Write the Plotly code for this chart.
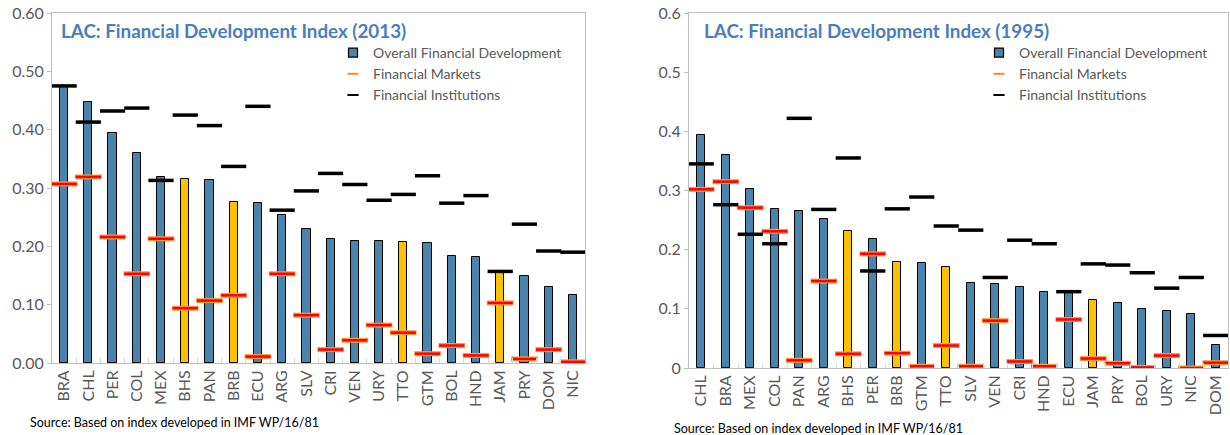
import plotly.graph_objects as go

# LAC financial development index
countries_2013 = ["BRA", "CHL", "PER", "COL", "MEX", "BHS", "PAN", "BRB", "ECU", "ARG", "SLV",
                  "CRI", "VEN", "URY", "TTO", "GTM", "BOL", "HND", "JAM", "PRY", "DOM", "NIC"]
overall_2013 = [0.475, 0.447, 0.395, 0.360, 0.319, 0.316, 0.313, 0.276, 0.275, 0.254, 0.229,
                0.212, 0.210, 0.209, 0.207, 0.205, 0.184, 0.181, 0.155, 0.149, 0.130, 0.117]
markets_2013 = [0.307, 0.319, 0.216, 0.153, 0.213, 0.094, 0.107, 0.116, 0.011, 0.153, 0.082,
                0.023, 0.039, 0.065, 0.052, 0.016, 0.030, 0.013, 0.103, 0.007, 0.023, 0.002]
institutions_2013 = [0.475, 0.413, 0.432, 0.437, 0.313, 0.425, 0.407, 0.337, 0.440, 0.262, 0.295,
                     0.325, 0.306, 0.279, 0.289, 0.321, 0.274, 0.287, 0.157, 0.238, 0.192, 0.190]

countries_1995 = ["CHL", "BRA", "MEX", "COL", "PAN", "ARG", "BHS", "PER", "BRB", "GTM", "TTO",
                  "SLV", "VEN", "CRI", "HND", "ECU", "JAM", "PRY", "BOL", "URY", "NIC", "DOM"]
overall_1995 = [0.394, 0.360, 0.302, 0.268, 0.265, 0.252, 0.231, 0.218, 0.179, 0.178, 0.170,
                0.144, 0.142, 0.137, 0.129, 0.126, 0.115, 0.110, 0.099, 0.096, 0.092, 0.039]
markets_1995 = [0.302, 0.315, 0.271, 0.231, 0.013, 0.147, 0.024, 0.193, 0.025, 0.003, 0.038,
                0.003, 0.080, 0.011, 0.003, 0.082, 0.016, 0.008, 0.001, 0.021, 0.000, 0.009]
institutions_1995 = [0.345, 0.276, 0.226, 0.210, 0.422, 0.268, 0.355, 0.164, 0.269, 0.289, 0.240,
                     0.233, 0.153, 0.216, 0.210, 0.129, 0.176, 0.174, 0.161, 0.135, 0.153, 0.055]

# small open economies shown in yellow
highlight = ["BHS", "BRB", "TTO", "JAM"]

# y axis ticks
y_ticks = [0, 0.1, 0.2, 0.3, 0.4, 0.5, 0.6]
y_labels_2013 = ["0.00", "0.10", "0.20", "0.30", "0.40", "0.50", "0.60"]
y_labels_1995 = ["0", "0.1", "0.2", "0.3", "0.4", "0.5", "0.6"]

BLUE = "#4A84AD"
YELLOW = "#FFC000"
TITLE_BLUE = "#4A7EBB"
GREY_TXT = "#595959"
FONT = "Lato"

W, H = 1230, 435


def px(x):
    return x / W


def py(y):
    return 1 - y / H


def add_panel(fig, countries, overall, markets, institutions, xa, ya, legend):
    colors = [YELLOW if c in highlight else BLUE for c in countries]
    fig.add_trace(go.Bar(
        x=countries, y=overall, name="Overall Financial Development",
        marker=dict(color=colors, line=dict(color="black", width=1)),
        width=0.34, xaxis=xa, yaxis=ya, showlegend=False,
    ))
    # orange halo underneath, red core on top (as in the Excel markers)
    fig.add_trace(go.Scatter(
        x=countries, y=markets, mode="markers", name="Financial Markets",
        marker=dict(symbol="line-ew", size=19, line=dict(color="#FF9A3C", width=5)),
        xaxis=xa, yaxis=ya, showlegend=False,
    ))
    fig.add_trace(go.Scatter(
        x=countries, y=markets, mode="markers", name="Financial Markets",
        marker=dict(symbol="line-ew", size=18, line=dict(color="#FF0000", width=2.5)),
        xaxis=xa, yaxis=ya, showlegend=False,
    ))
    fig.add_trace(go.Scatter(
        x=countries, y=institutions, mode="markers", name="Financial Institutions",
        marker=dict(symbol="line-ew", size=18, line=dict(color="black", width=3.5)),
        xaxis=xa, yaxis=ya, showlegend=False,
    ))

    # legend-only entries with small Excel-like keys
    fig.add_trace(go.Scatter(
        x=[None], y=[None], mode="markers", name="Overall Financial Development",
        marker=dict(symbol="square", size=9, color=BLUE, line=dict(color="black", width=1.2)),
        xaxis=xa, yaxis=ya, legend=legend,
    ))
    fig.add_trace(go.Scatter(
        x=[None], y=[None], mode="markers", name="Financial Markets",
        marker=dict(symbol="line-ew", size=8, line=dict(color="#F7892F", width=2)),
        xaxis=xa, yaxis=ya, legend=legend,
    ))
    fig.add_trace(go.Scatter(
        x=[None], y=[None], mode="markers", name="Financial Institutions",
        marker=dict(symbol="line-ew", size=8, line=dict(color="black", width=2)),
        xaxis=xa, yaxis=ya, legend=legend,
    ))


fig = go.Figure()
add_panel(fig, countries_2013, overall_2013, markets_2013, institutions_2013, "x", "y", "legend")
add_panel(fig, countries_1995, overall_1995, markets_1995, institutions_1995, "x2", "y2", "legend2")

xaxis_style = dict(
    type="category", range=[-0.5, 21.5], showline=True, linecolor="#BFBFBF", mirror=True,
    ticks="inside", tickson="boundaries", ticklen=5, tickcolor="#D9D9D9",
    tickangle=-90, tickfont=dict(family=FONT, size=16, color=GREY_TXT),
    showgrid=False, zeroline=False, fixedrange=True, automargin=False,
)
yaxis_style = dict(
    range=[0, 0.6], tickmode="array", tickvals=y_ticks,
    showline=True, linecolor="#BFBFBF", mirror=True,
    ticks="outside", ticklen=4, tickcolor="#BFBFBF",
    tickfont=dict(family=FONT, size=16, color=GREY_TXT),
    showgrid=False, zeroline=False, fixedrange=True, automargin=False,
)

legend_style = dict(
    font=dict(family=FONT, size=14, color=GREY_TXT),
    bgcolor="rgba(0,0,0,0)", tracegroupgap=0, itemwidth=30,
    xanchor="left", yanchor="top", traceorder="normal",
)

fig.update_layout(
    width=W, height=H,
    margin=dict(l=0, r=0, t=0, b=0, autoexpand=False),
    plot_bgcolor="white", paper_bgcolor="white",
    barmode="overlay", bargap=0,
    xaxis=dict(xaxis_style, domain=[px(52), px(585)], anchor="y"),
    yaxis=dict(yaxis_style, domain=[py(363), py(13)], anchor="x", ticktext=y_labels_2013),
    xaxis2=dict(xaxis_style, domain=[px(689), px(1228)], anchor="y2"),
    yaxis2=dict(yaxis_style, domain=[py(368), py(13)], anchor="x2", ticktext=y_labels_1995),
    legend=dict(legend_style, x=px(333), y=py(37)),
    legend2=dict(legend_style, x=px(979), y=py(37)),
    showlegend=True,
)

fig.add_annotation(text="<b>LAC: Financial Development Index (2013)</b>", xref="paper", yref="paper",
                   x=px(59), y=py(30), xanchor="left", yanchor="middle", showarrow=False,
                   font=dict(family=FONT, size=18.8, color=TITLE_BLUE))
fig.add_annotation(text="<b>LAC: Financial Development Index (1995)</b>", xref="paper", yref="paper",
                   x=px(702), y=py(31), xanchor="left", yanchor="middle", showarrow=False,
                   font=dict(family=FONT, size=18.8, color=TITLE_BLUE))
fig.add_annotation(text="Source: Based on index developed in IMF WP/16/81", xref="paper", yref="paper",
                   x=px(28), y=py(422), xanchor="left", yanchor="middle", showarrow=False,
                   font=dict(family=FONT, size=12.5, color="black"))
fig.add_annotation(text="Source: Based on index developed in IMF WP/16/81", xref="paper", yref="paper",
                   x=px(672), y=py(428), xanchor="left", yanchor="middle", showarrow=False,
                   font=dict(family=FONT, size=12.5, color="black"))

# drop the browser's default body margin so the figure fills the window exactly
fig.write_html("out.html", config={"displayModeBar": False},
               post_script="document.body.style.margin = '0';")
